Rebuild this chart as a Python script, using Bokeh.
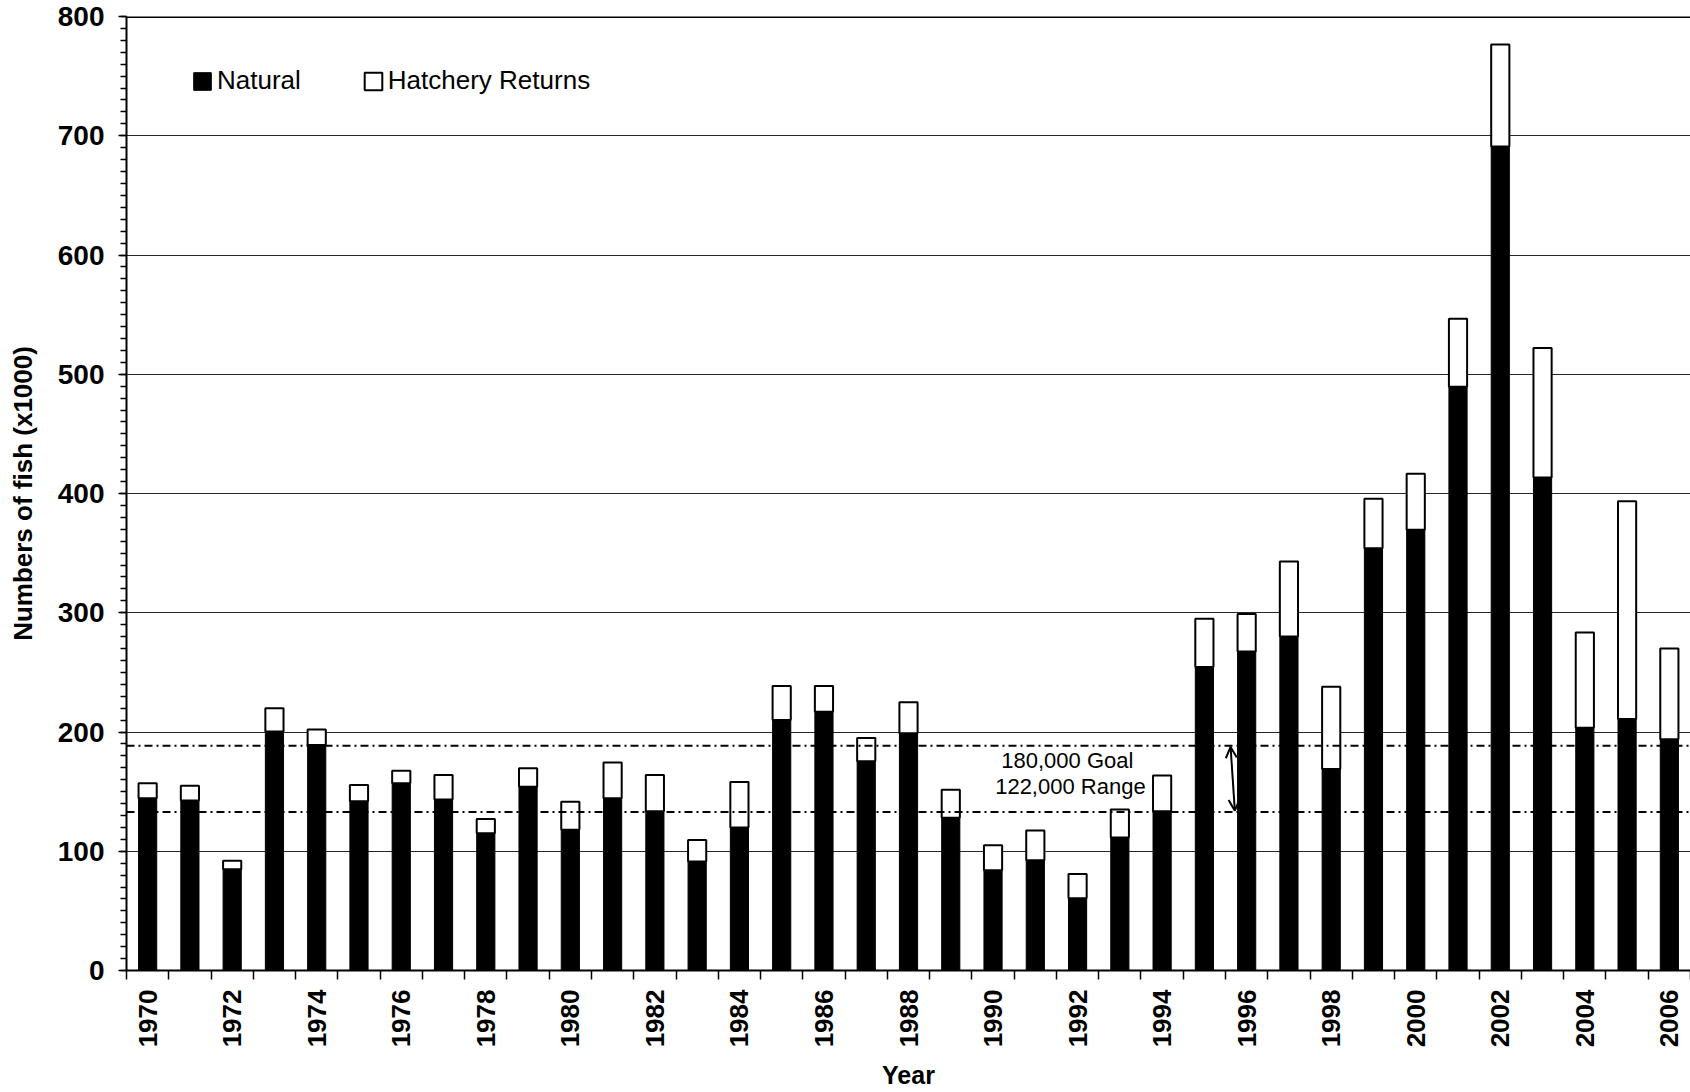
import math
from bokeh.plotting import figure
from bokeh.models import (Range1d, FixedTicker, SingleIntervalTicker, Span, Arrow,
                          OpenHead, ColumnDataSource)
from bokeh.core.properties import value
from bokeh.embed import file_html
from bokeh.resources import INLINE

# ---- data (numbers of fish, x1000) ----
years = list(range(1970, 2007))
natural = [144.5, 142.5, 85, 200.5, 189, 142, 157, 143.5, 115, 154,
           118, 144.5, 133.5, 91.5, 120, 210, 217, 175.5, 199, 128,
           84, 92.5, 60.5, 111.5, 133.5, 254.5, 267.5, 280, 169, 354,
           369.5, 489.5, 691, 413.5, 203.5, 211, 194]
hatchery = [12.5, 12.5, 7, 19.5, 13, 13.5, 10.5, 20.5, 12, 15.5,
            23.5, 30, 30.5, 18, 38, 28.5, 21.5, 19.5, 26, 23.5,
            21, 25, 20.5, 23.5, 30, 40.5, 31.5, 63, 69, 41.5,
            47, 57, 85.5, 108.5, 80, 182.5, 76]
series_names = ["Natural", "Hatchery Returns"]
label_years = [y for y in years if y % 2 == 0]
goal_levels = [188.5, 133]
goal_texts = ["180,000  Goal", "122,000 Range"]

FONT = "Liberation Sans"

source = ColumnDataSource(dict(year=years, natural=natural, hatchery=hatchery))

p = figure(width=1690, height=1092,
           x_range=Range1d(years[0] - 0.5, years[-1] + 0.5),
           y_range=Range1d(0, 800),
           output_backend="svg", toolbar_location=None,
           min_border_left=126, min_border_right=0,
           min_border_top=16, min_border_bottom=122)
p.outline_line_color = None
p.background_fill_color = "white"
p.border_fill_color = "white"

# grid
p.xgrid.visible = False
p.ygrid.ticker = SingleIntervalTicker(interval=100)
p.ygrid.grid_line_color = "#262626"
p.ygrid.grid_line_width = 1

# reference lines (goal / range)
for lvl in goal_levels:
    p.add_layout(Span(location=lvl, dimension="width", line_color="black",
                      line_width=2, line_dash="8 4 2 4"))

# bars
p.vbar_stack(["natural", "hatchery"], x="year", width=0.43, source=source,
             fill_color=["black", "white"], line_color="black",
             line_width=[1, 2], legend_label=series_names)

# top frame line
p.add_layout(Span(location=800, dimension="width", line_color="black", line_width=3))

# annotation text and arrow
p.text(x=[1991.83, 1991.83], y=[176.5, 154.7], text=goal_texts,
       text_align="center", text_baseline="alphabetic",
       text_font=value(FONT), text_font_size="22px", text_color="black")
p.add_layout(Arrow(start=OpenHead(size=11, line_width=2), end=OpenHead(size=11, line_width=2),
                   x_start=1995.62, y_start=187.5, x_end=1995.72, y_end=134,
                   line_width=2, line_color="black"))

# y axis
yax = p.yaxis[0]
yax.ticker = SingleIntervalTicker(interval=100, num_minor_ticks=10)
yax.axis_line_width = 2
yax.major_tick_out = 8
yax.major_tick_in = 0
yax.minor_tick_out = 6
yax.minor_tick_in = 0
yax.major_tick_line_width = 1.5
yax.minor_tick_line_width = 1.5
yax.major_label_text_font = FONT
yax.major_label_text_font_style = "bold"
yax.major_label_text_font_size = "28px"
yax.major_label_text_color = "black"
yax.major_label_standoff = 14
yax.axis_label = "Numbers of fish (x1000)"
yax.axis_label_text_font = FONT
yax.axis_label_text_font_style = "bold"
yax.axis_label_text_font_size = "26px"
yax.axis_label_text_color = "black"
yax.axis_label_standoff = 17

# x axis
xax = p.xaxis[0]
boundaries = [y - 0.5 for y in years] + [years[-1] + 0.5]
xax.ticker = FixedTicker(ticks=label_years, minor_ticks=boundaries)
xax.axis_line_width = 2
xax.major_tick_out = 9
xax.major_tick_in = 0
xax.major_tick_line_alpha = 0
xax.minor_tick_out = 9
xax.minor_tick_in = 0
xax.minor_tick_line_width = 1.5
xax.major_label_orientation = math.pi / 2
xax.major_label_text_font = FONT
xax.major_label_text_font_style = "bold"
xax.major_label_text_font_size = "26px"
xax.major_label_text_color = "black"
xax.major_label_standoff = 10
xax.axis_label = "Year"
xax.axis_label_text_font = FONT
xax.axis_label_text_font_style = "bold"
xax.axis_label_text_font_size = "25px"
xax.axis_label_text_color = "black"
xax.axis_label_standoff = 11

# legend
lg = p.legend[0]
lg.orientation = "horizontal"
lg.location = (65, 874)
lg.padding = 0
lg.margin = 0
lg.spacing = 61
lg.glyph_width = 22
lg.glyph_height = 22
lg.label_standoff = 4
lg.label_text_font = FONT
lg.label_text_font_size = "26px"
lg.label_text_color = "black"
lg.border_line_color = None
lg.background_fill_alpha = 0

open("out.html", "w").write(file_html(p, INLINE))
